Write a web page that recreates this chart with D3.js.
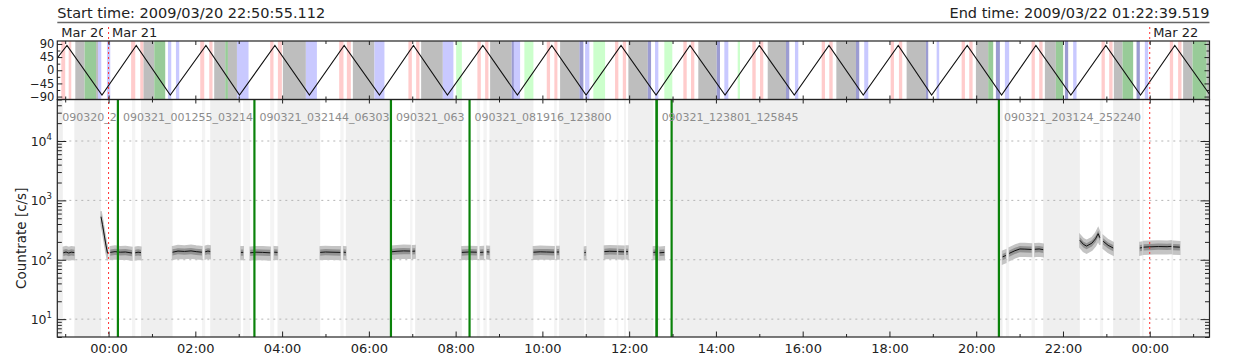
<!DOCTYPE html>
<html>
<head>
<meta charset="utf-8">
<script src="https://cdn.jsdelivr.net/npm/d3@7"></script>
<style>
  body { margin: 0; background: #fff; }
  text { font-family: "DejaVu Sans", sans-serif; fill: #222; }
</style>
</head>
<body>
<div id="chart"></div>
<script>
// Données (heures depuis le 2009/03/21 00:00)
const startHour = -1.1819,
    endHour = 25.3777
const startLabel = 'Start time: 2009/03/20 22:50:55.112'
const endLabel = 'End time: 2009/03/22 01:22:39.519'

const dayHours = [-1.1819, 0, 24]
const dayLabels = ['Mar 20', 'Mar 21', 'Mar 22']
const dayLines = [0, 24]

const xTickHours = [0, 2, 4, 6, 8, 10, 12, 14, 16, 18, 20, 22, 24]
const xTickLabels = ['00:00', '02:00', '04:00', '06:00', '08:00', '10:00', '12:00',
    '14:00', '16:00', '18:00', '20:00', '22:00', '00:00']
const orbTicks = [90, 45, 0, -45, -90]
const orbTickLabels = ['90', '45', '0', '\u221245', '\u221290']
const rateDecades = [10, 100, 1000, 10000]
const rateExponents = ['1', '2', '3', '4']

// sommets de l'orbite (angle)
const orbitHours = [-1.182, -0.959, -0.152, 0.638, 1.422, 2.244, 3.018, 3.834, 4.63, 5.431,
    6.244, 7.028, 7.811, 8.627, 9.424, 10.217, 11.007, 11.813, 12.620, 13.403, 14.210,
    15.000, 15.806, 16.606, 17.396, 18.203, 18.972, 19.793, 20.585, 21.376, 22.182,
    22.988, 23.788, 24.578, 25.378]
const orbitValues = [42, 85, -85, 85, -85, 85, -85, 85, -85, 85, -85, 85, -85, 85, -85,
    85, -85, 85, -85, 85, -85, 85, -85, 85, -85, 85, -85, 85, -85, 85, -85, 85, -85, 85, -82]

// bandes du panneau du haut
const pinkBands = [[-1.09, -1.0], [-0.92, -0.86], [0.52, 0.615], [0.73, 0.806], [2.113, 2.205],
    [2.32, 2.396], [3.726, 3.802], [3.903, 3.995], [5.316, 5.415], [5.493, 5.585], [6.912, 6.991],
    [7.09, 7.166], [8.502, 8.581], [8.68, 8.756], [10.101, 10.177], [10.276, 10.346],
    [11.675, 11.751], [11.853, 11.929], [13.249, 13.327], [13.426, 13.502], [14.839, 14.917],
    [15.016, 15.092], [16.438, 16.514], [16.613, 16.691], [18.028, 18.104], [18.219, 18.295],
    [19.664, 19.74], [19.839, 19.917], [21.276, 21.352], [21.452, 21.53], [22.889, 22.965],
    [23.065, 23.143], [24.463, 24.539], [24.654, 24.733]]
const grayBands = [[-0.767, -0.553], [-0.29, -0.244], [0.806, 1.053], [2.435, 2.689],
    [2.751, 2.959], [4.018, 4.548], [5.631, 6.129], [7.205, 7.705], [8.795, 9.295],
    [10.408, 10.853], [11.982, 12.429], [13.594, 14.018], [15.194, 15.615], [16.776, 17.228],
    [18.396, 18.841], [19.993, 20.276], [21.583, 21.836], [23.173, 23.373], [24.77, 24.986],
    [25.309, 25.378]]
const greenBands = [[-0.553, -0.29], [1.053, 1.306], [2.689, 2.751], [20.276, 20.392],
    [21.836, 22.005], [23.373, 23.618], [24.986, 25.309]]
const lightGreenBands = [[8.012, 8.143], [9.585, 9.793], [11.175, 11.445], [12.811, 12.995],
    [14.502, 14.555]]
const blueBands = [[-0.244, -0.168], [-0.037, 0.039], [1.369, 1.445], [1.553, 1.629],
    [2.959, 3.226], [4.548, 4.802], [6.129, 6.359], [7.705, 7.949], [9.295, 9.486],
    [10.984, 11.083], [12.597, 12.673], [14.194, 14.286], [15.822, 15.899], [17.419, 17.512],
    [19.088, 19.147], [20.661, 20.76], [22.235, 22.313], [23.887, 23.963]]
const darkBlueBands = [[9.295, 9.34], [10.853, 10.945], [12.429, 12.505], [14.018, 14.094],
    [15.615, 15.691], [17.228, 17.304], [18.841, 18.894], [20.454, 20.546], [22.044, 22.12],
    [23.696, 23.772]]

// bandes du panneau du bas (pas de données)
const noDataBands = [[-1.182, -1.055], [-0.79, -0.175], [0.747, 1.475], [2.343, 3.051],
    [3.894, 4.878], [5.47, 6.507], [7.067, 8.143], [8.779, 9.793], [10.385, 10.968],
    [11.0, 11.429], [11.975, 12.558], [12.995, 20.608], [21.544, 22.389], [23.157, 23.772],
    [24.694, 25.378]]
const shortGaps = [[0.539, 0.615], [2.152, 2.228], [3.104, 3.265], [3.726, 3.818],
    [5.343, 5.419], [6.952, 7.005], [8.488, 8.565], [8.641, 8.719], [10.27, 10.332],
    [11.714, 11.751], [11.882, 11.929], [12.66, 12.7], [20.684, 20.76], [21.276, 21.352],
    [22.85, 22.926], [23.82, 23.86], [24.5, 24.54]]

// fichiers
const fileStarts = [-1.1819, 0.2153, 3.3622, 6.5092, 8.3211, 12.6336, 20.5233]
const fileEnds = [0.2153, 3.3622, 6.5092, 8.3211, 12.6333, 12.9792, 25.3778]
const fileLabels = ['090320_225055_001255', '090321_001255_032144', '090321_032144_063033',
    '090321_063033_081916', '090321_081916_123800', '090321_123801_125845',
    '090321_203124_252240']

// taux de comptage (null = coupure)
const rateHours = [-1.044, -0.98, -0.92, -0.86, -0.79, null,
    -0.175, -0.14, -0.10, -0.06, -0.023, null,
    0.039, 0.15, 0.27, 0.39, 0.539, null,
    0.615, 0.68, 0.747, null,
    1.475, 1.6, 1.75, 1.9, 2.02, 2.152, null,
    2.228, 2.29, 2.343, null,
    3.051, 3.104, null,
    3.265, 3.4, 3.55, 3.726, null,
    3.818, 3.894, null,
    4.878, 5.0, 5.15, 5.343, null,
    5.419, 5.47, null,
    6.507, 6.65, 6.8, 6.952, null,
    7.005, 7.067, null,
    8.143, 8.3, 8.488, null,
    8.565, 8.641, null,
    8.719, 8.779, null,
    9.793, 9.95, 10.1, 10.27, null,
    10.332, 10.385, null,
    10.968, 11.0, null,
    11.429, 11.55, 11.714, null,
    11.751, 11.882, null,
    11.929, 11.975, null,
    12.558, 12.66, null,
    12.7, 12.811, null,
    20.608, 20.684, null,
    20.76, 20.892, 21.007, 21.122, 21.276, null,
    21.352, 21.45, 21.544, null,
    22.389, 22.47, 22.544, 22.666, 22.75, 22.811, 22.85, null,
    22.926, 23.04, 23.157, null,
    23.772, 23.82, null,
    23.86, 24.0, 24.2, 24.4, 24.5, null,
    24.54, 24.694]
const rateValues = [131, 135, 130, 134, 132, null,
    530, 390, 260, 175, 128, null,
    133, 137, 134, 135, 130, null,
    131, 134, 132, null,
    134, 140, 138, 141, 137, 134, null,
    136, 140, 138, null,
    133, 133, null,
    131, 134, 133, 131, null,
    134, 133, null,
    133, 135, 134, 133, null,
    134, 133, null,
    136, 139, 141, 140, null,
    139, 140, null,
    133, 135, 134, null,
    133, 134, null,
    136, 135, null,
    134, 136, 135, 134, null,
    135, 135, null,
    132, 133, null,
    137, 139, 138, null,
    137, 136, null,
    137, 137, null,
    133, 135, null,
    131, 133, null,
    112, 118, null,
    128, 142, 152, 151, 149, null,
    150, 152, 148, null,
    213, 182, 170, 190, 225, 275, 235, null,
    205, 175, 158, null,
    158, 160, null,
    163, 165, 167, 166, 168, null,
    165, 163]

/**---------------------------------------------
 * Mise en page
 *--------------------------------------------*/
const width = 1240,
    height = 360
const left = 57.3,
    right = 1209.5
const topY0 = 41,
    topY1 = 99.5,
    lowY0 = 99.5,
    lowY1 = 337

const x = d3.scaleLinear().domain([startHour, endHour]).range([left, right])
const yOrb = d3.scaleLinear().domain([-100, 100]).range([topY1, topY0])
const yRate = d3.scaleLog().domain([5, 5e4]).range([lowY1, lowY0])

const svg = d3.select('#chart')
    .append('svg')
    .attr('width', width)
    .attr('height', height)

const defs = svg.append('defs')
defs.append('clipPath').attr('id', 'clip-top')
    .append('rect').attr('x', left).attr('y', topY0).attr('width', right - left).attr('height', topY1 - topY0)
defs.append('clipPath').attr('id', 'clip-low')
    .append('rect').attr('x', left).attr('y', lowY0).attr('width', right - left).attr('height', lowY1 - lowY0)
defs.append('clipPath').attr('id', 'clip-day0')
    .append('rect').attr('x', 0).attr('y', 0).attr('width', 103).attr('height', 40)

// En-tête
svg.append('text').attr('x', left).attr('y', 18).attr('font-size', 14.5).text(startLabel)
svg.append('text').attr('x', right).attr('y', 18).attr('font-size', 14.5)
    .attr('text-anchor', 'end').text(endLabel)
svg.append('line').attr('x1', left).attr('x2', right).attr('y1', 22.5).attr('y2', 22.5)
    .attr('stroke', '#666').attr('stroke-width', 1.5)

// Étiquettes des jours
svg.append('g').selectAll('text')
    .data(dayHours)
    .join('text')
    .attr('x', (d, i) => x(d) + (i == 0 ? 4 : 3.4))
    .attr('y', 36.5)
    .attr('font-size', 13)
    .attr('clip-path', (d, i) => i == 0 ? 'url(#clip-day0)' : null)
    .text((d, i) => dayLabels[i])

/**---------------------------------------------
 * Panneau du haut
 *--------------------------------------------*/
const topG = svg.append('g').attr('clip-path', 'url(#clip-top)')
const drawBands = (g, bands, color, y0, y1) => {
    g.append('g').selectAll('rect')
        .data(bands)
        .join('rect')
        .attr('x', d => x(d[0]))
        .attr('width', d => x(d[1]) - x(d[0]))
        .attr('y', y0)
        .attr('height', y1 - y0)
        .attr('fill', color)
}
drawBands(topG, pinkBands, '#ffcccc', topY0, topY1)
drawBands(topG, grayBands, '#bebebe', topY0, topY1)
drawBands(topG, greenBands, '#98cb98', topY0, topY1)
drawBands(topG, lightGreenBands, '#ccffcc', topY0, topY1)
drawBands(topG, blueBands, '#c9c9ff', topY0, topY1)
drawBands(topG, darkBlueBands, '#9c9cd2', topY0, topY1)

const orbit = orbitHours.map((h, i) => [h, orbitValues[i]])
topG.append('path')
    .datum(orbit)
    .attr('d', d3.line().x(d => x(d[0])).y(d => yOrb(d[1])))
    .attr('fill', 'none')
    .attr('stroke', '#111')
    .attr('stroke-width', 1.1)

/**---------------------------------------------
 * Panneau du bas
 *--------------------------------------------*/
const lowG = svg.append('g').attr('clip-path', 'url(#clip-low)')
drawBands(lowG, noDataBands, '#efefef', lowY0, lowY1)
drawBands(lowG, shortGaps, '#f4f4f4', lowY0, lowY1)

// lignes de grille
lowG.append('g').selectAll('line')
    .data(rateDecades)
    .join('line')
    .attr('x1', left).attr('x2', right)
    .attr('y1', d => yRate(d)).attr('y2', d => yRate(d))
    .attr('stroke', '#b4b4b4')
    .attr('stroke-dasharray', '2,4')

// taux de comptage
const rate = rateHours.map((h, i) => [h, rateValues[i]])
const defined = d => d[0] != null
lowG.append('path')
    .datum(rate)
    .attr('d', d3.area().defined(defined).x(d => x(d[0]))
        .y0(d => yRate(d[1] * 0.76)).y1(d => yRate(d[1] * 1.24)))
    .attr('fill', '#c4c4c4')
    .attr('stroke', '#c4c4c4')
    .attr('stroke-width', 1.5)
lowG.append('path')
    .datum(rate)
    .attr('d', d3.area().defined(defined).x(d => x(d[0]))
        .y0(d => yRate(d[1] * 0.88)).y1(d => yRate(d[1] * 1.12)))
    .attr('fill', '#939393')
lowG.append('path')
    .datum(rate)
    .attr('d', d3.line().defined(defined).x(d => x(d[0])).y(d => yRate(d[1])))
    .attr('fill', 'none')
    .attr('stroke', '#111')
    .attr('stroke-width', 1)

// limites des fichiers
const bounds = Array.from(new Set(fileStarts.concat(fileEnds).map(d => d.toFixed(3))))
    .map(Number)
    .filter(d => d > startHour + 0.01 && d < endHour - 0.01)
lowG.append('g').selectAll('line')
    .data(bounds)
    .join('line')
    .attr('x1', d => x(d)).attr('x2', d => x(d))
    .attr('y1', lowY0).attr('y2', lowY1)
    .attr('stroke', '#0a820a')
    .attr('stroke-width', 2.2)

// noms des fichiers, raccourcis avant le fichier suivant
fileLabels.forEach((name, i) => {
    const x0 = x(fileStarts[i]) + 5
    const maxW = i < fileStarts.length - 1 ? x(fileStarts[i + 1]) - x0 + 1 : right - x0
    const t = lowG.append('text')
        .attr('x', x0)
        .attr('y', 121)
        .attr('font-size', 11)
        .style('fill', '#8c8c8c')
        .text(name)
    let s = name
    while (s.length > 1 && t.node().getComputedTextLength() > maxW) {
        s = s.slice(0, -1)
        t.text(s)
    }
})

// lignes des jours
svg.append('g').selectAll('line')
    .data(dayLines)
    .join('line')
    .attr('x1', d => x(d)).attr('x2', d => x(d))
    .attr('y1', 27).attr('y2', lowY1)
    .attr('stroke', '#ff3030')
    .attr('stroke-dasharray', '2,3')

/**---------------------------------------------
 * Axes et cadres
 *--------------------------------------------*/
const tickStyle = g => {
    g.select('.domain').remove()
    g.selectAll('.tick line').attr('stroke', '#222')
}
const hourTicks = d3.range(-1, 26)
const evenTicks = hourTicks.filter(h => h % 2 == 0)
const oddTicks = hourTicks.filter(h => h % 2 != 0)

// ticks horaires
;[[topY0, d3.axisTop], [topY1, d3.axisBottom], [lowY0, d3.axisTop]].forEach(([y, ax]) => {
    svg.append('g').attr('transform', `translate(0, ${y})`)
        .call(ax(x).tickValues(evenTicks).tickSize(-4).tickFormat(''))
        .call(tickStyle)
    svg.append('g').attr('transform', `translate(0, ${y})`)
        .call(ax(x).tickValues(oddTicks).tickSize(-3).tickFormat(''))
        .call(tickStyle)
})
svg.append('g').attr('transform', `translate(0, ${lowY1})`)
    .call(d3.axisBottom(x).tickValues(oddTicks).tickSize(-3).tickFormat(''))
    .call(tickStyle)
svg.append('g').attr('transform', `translate(0, ${lowY1})`)
    .call(d3.axisBottom(x).tickValues(xTickHours).tickSize(-5.5).tickPadding(7)
        .tickFormat((d, i) => xTickLabels[i]))
    .call(tickStyle)
    .call(g => g.selectAll('text').attr('font-size', 13).style('fill', '#222'))

// axe y du haut
const orbMinor = [67.5, 22.5, -22.5, -67.5]
svg.append('g').attr('transform', `translate(${left}, 0)`)
    .call(d3.axisLeft(yOrb).tickValues(orbTicks).tickSize(-5).tickPadding(3)
        .tickFormat((d, i) => orbTickLabels[i]))
    .call(tickStyle)
    .call(g => g.selectAll('text').attr('font-size', 11.5).attr('x', -3).style('fill', '#222'))
svg.append('g').attr('transform', `translate(${left}, 0)`)
    .call(d3.axisLeft(yOrb).tickValues(orbMinor).tickSize(-3).tickFormat(''))
    .call(tickStyle)
svg.append('g').attr('transform', `translate(${right}, 0)`)
    .call(d3.axisRight(yOrb).tickValues(orbTicks).tickSize(-5).tickFormat(''))
    .call(tickStyle)
svg.append('g').attr('transform', `translate(${right}, 0)`)
    .call(d3.axisRight(yOrb).tickValues(orbMinor).tickSize(-3).tickFormat(''))
    .call(tickStyle)

// axe y du bas (log)
const rateMinor = yRate.ticks().filter(v => !rateDecades.includes(v))
;[[left, d3.axisLeft], [right, d3.axisRight]].forEach(([xp, ax]) => {
    svg.append('g').attr('transform', `translate(${xp}, 0)`)
        .call(ax(yRate).tickValues(rateDecades).tickSize(-9).tickFormat(''))
        .call(tickStyle)
    svg.append('g').attr('transform', `translate(${xp}, 0)`)
        .call(ax(yRate).tickValues(rateMinor).tickSize(-4.5).tickFormat(''))
        .call(tickStyle)
})
const expLabels = svg.append('g').selectAll('text')
    .data(rateDecades)
    .join('text')
    .attr('x', 52)
    .attr('y', d => yRate(d) + 5)
    .attr('text-anchor', 'end')
    .attr('font-size', 12.5)
expLabels.append('tspan').text('10')
expLabels.append('tspan').attr('font-size', 8.5).attr('dy', -6).text((d, i) => rateExponents[i])

svg.append('text')
    .attr('transform', `translate(26, ${(lowY0 + lowY1) / 2 + 20}) rotate(-90)`)
    .attr('text-anchor', 'middle')
    .attr('font-size', 13.5)
    .text('Countrate [c/s]')

// cadres
svg.append('rect').attr('x', left).attr('y', topY0).attr('width', right - left).attr('height', topY1 - topY0)
    .attr('fill', 'none').attr('stroke', '#222').attr('stroke-width', 1.2)
svg.append('rect').attr('x', left).attr('y', lowY0).attr('width', right - left).attr('height', lowY1 - lowY0)
    .attr('fill', 'none').attr('stroke', '#222').attr('stroke-width', 1.2)
</script>
</body>
</html>
